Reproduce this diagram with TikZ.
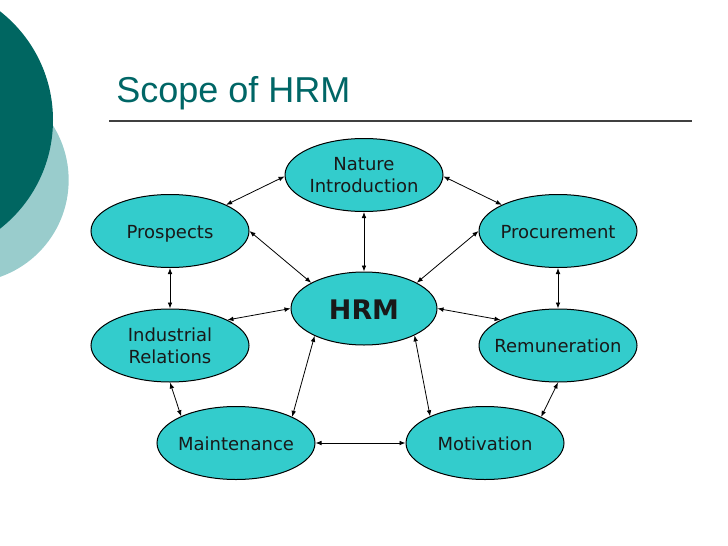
\documentclass[tikz,border=0pt]{standalone}
\usepackage{fontspec}
\setmainfont{DejaVu Sans}
\newfontfamily\titlefont{Liberation Sans}
\usetikzlibrary{shapes.geometric,arrows.meta}
\definecolor{darkteal}{HTML}{006661}
\definecolor{lightteal}{HTML}{99CCCC}
\definecolor{nodefill}{HTML}{33CCCC}
\definecolor{titlecol}{HTML}{006666}
% text placed with its first baseline #1 below the node centre
\newcommand\lbltext[2]{\makebox[0pt]{\smash{\raisebox{-#1}{\begin{tabular}[t]{@{}c@{}}#2\end{tabular}}}}}
\begin{document}
\begin{tikzpicture}[x=0.75pt,y=-0.75pt,
  ell/.style={ellipse,draw=black,line width=0.75pt,fill=nodefill,inner sep=0pt,
    minimum width=118.5pt,minimum height=54.75pt,
    font=\fontsize{13.5}{16.6}\selectfont,text=black!90},
  link/.style={line width=0.6pt,{Latex[length=4.5pt,width=3.5pt]}-{Latex[length=4.5pt,width=3.5pt]}},
]
\useasboundingbox (0,0) rectangle (728,546);
\clip (0,0) rectangle (728,546);
% decorative circles
\fill[lightteal] (-34,180) circle[radius=77pt];
\fill[darkteal] (-85,120) circle[radius=103.5pt];
% title
\node[anchor=base west,inner sep=0pt,font=\titlefont\fontsize{27}{31}\selectfont,text=titlecol] (title) at (116,102) {Scope of HRM};
\coordinate (ruleL) at (109,121);
\coordinate (ruleR) at (692,121);
\draw[line width=1pt,draw=black!75] (ruleL) -- (ruleR);
% nodes
\node[ell] (nat) at (364,175) {\lbltext{-3.2pt}{Nature\\Introduction}};
\node[ell] (pros) at (170,231) {\lbltext{5.25pt}{Prospects}};
\node[ell] (proc) at (558,231) {\lbltext{5.25pt}{Procurement}};
\node[ell,minimum width=109.5pt,font=\fontsize{20.2}{24}\selectfont\bfseries] (hrm) at (364,308.5) {\lbltext{8.6pt}{HRM}};
\node[ell] (ind) at (170,345.5) {\lbltext{-2.85pt}{Industrial\\Relations}};
\node[ell] (rem) at (558,345.5) {\lbltext{5.3pt}{Remuneration}};
\node[ell] (maint) at (236,443) {\lbltext{5.25pt}{Maintenance}};
\node[ell] (motiv) at (485,443) {\lbltext{5.25pt}{Motivation}};
% connectors
\draw[link] (nat.181) -- (pros.25);
\draw[link] (nat.359) -- (proc.155);
\draw[link] (nat.south) -- (hrm.north);
\draw[link] (pros.east) -- (hrm.154);
\draw[link] (proc.west) -- (hrm.26);
\draw[link] (pros.south) -- (ind.north);
\draw[link] (proc.south) -- (rem.north);
\draw[link] (hrm.west) -- (ind.24);
\draw[link] (hrm.east) -- (rem.156);
\draw[link] (hrm.209) -- (maint.25);
\draw[link] (hrm.332) -- (motiv.154);
\draw[link] (ind.south) -- (maint.154);
\draw[link] (rem.south) -- (motiv.25);
\draw[link] (maint.east) -- (motiv.west);
\end{tikzpicture}
\end{document}
